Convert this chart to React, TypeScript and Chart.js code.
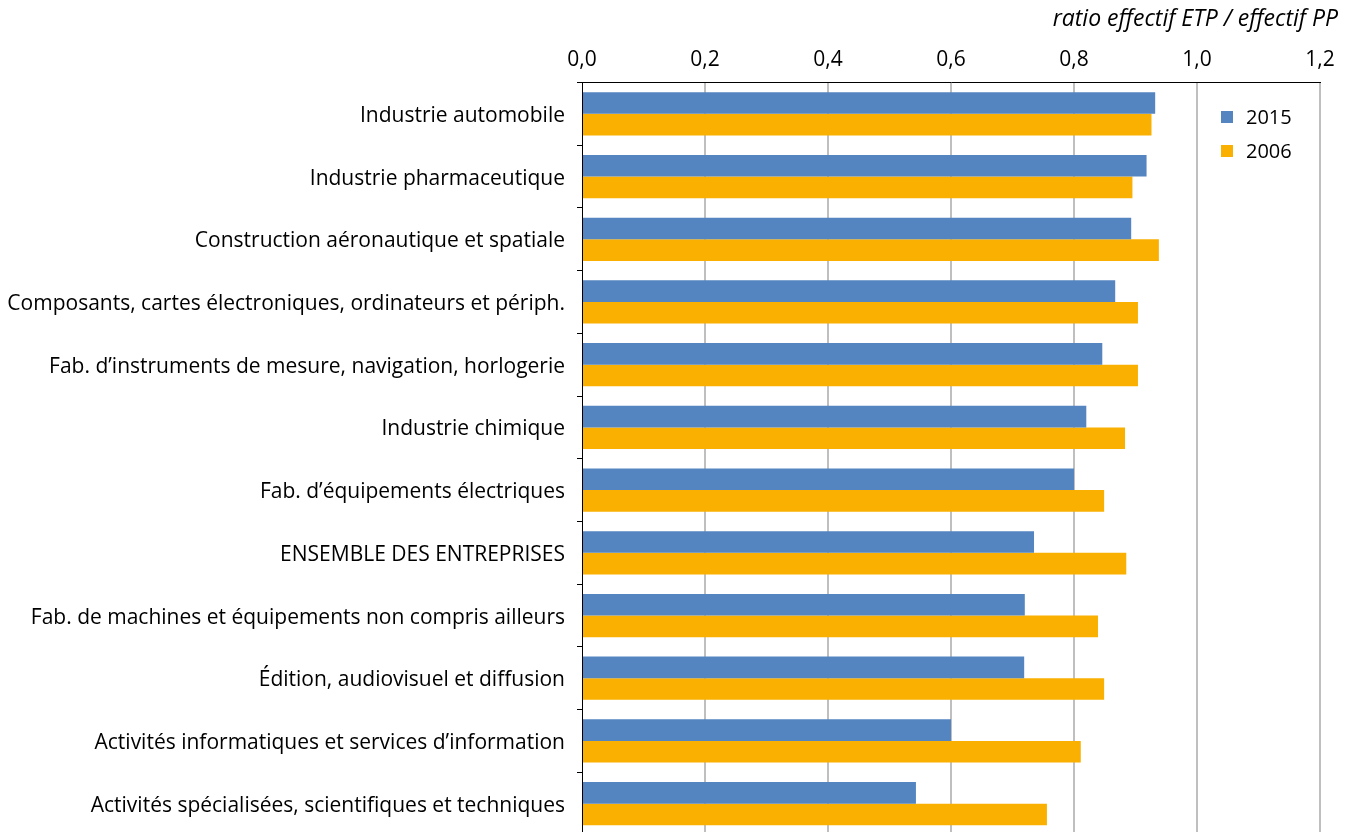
import React, { useEffect, useRef } from "react";
import { Chart, registerables } from "chart.js";

Chart.register(...registerables);

const categories = [
  "Industrie automobile",
  "Industrie pharmaceutique",
  "Construction aéronautique et spatiale",
  "Composants, cartes électroniques, ordinateurs et périph.",
  "Fab. d’instruments de mesure, navigation, horlogerie",
  "Industrie chimique",
  "Fab. d’équipements électriques",
  "ENSEMBLE DES ENTREPRISES",
  "Fab. de machines et équipements non compris ailleurs",
  "Édition, audiovisuel et diffusion",
  "Activités informatiques et services d’information",
  "Activités spécialisées, scientifiques et techniques",
];

const seriesNames = ["2015", "2006"];
const values2015 = [0.932, 0.918, 0.893, 0.867, 0.846, 0.82, 0.8, 0.735, 0.72, 0.719, 0.6, 0.543];
const values2006 = [0.926, 0.895, 0.938, 0.904, 0.904, 0.883, 0.849, 0.885, 0.839, 0.849, 0.811, 0.756];
const seriesColors = ["#5585C0", "#F9B000"];

const xMin = 0;
const xMax = 1.2;
const xStep = 0.2;
const axisTitle = "ratio effectif ETP / effectif PP";

const FONT = "'Open Sans', 'Noto Sans', sans-serif";

const decorPlugin = {
  id: "decor",
  afterDraw(chart: any) {
    const { ctx, chartArea } = chart;
    ctx.save();
    // axis title, top right
    ctx.font = `italic 23px ${FONT}`;
    ctx.fillStyle = "#000";
    ctx.textAlign = "right";
    ctx.textBaseline = "middle";
    ctx.fillText(axisTitle, chart.width - 16, 19);
    // legend
    ctx.font = `20px ${FONT}`;
    ctx.textAlign = "left";
    const lx = chartArea.right - 99;
    const ly0 = chartArea.top + 34.5;
    seriesNames.forEach((name, i) => {
      const cy = ly0 + i * 34;
      ctx.fillStyle = seriesColors[i];
      ctx.fillRect(lx, cy - 6, 12, 12);
      ctx.fillStyle = "#000";
      ctx.fillText(name, lx + 25, cy + 1);
    });
    ctx.restore();
  },
};

export default function App() {
  const ref = useRef<HTMLCanvasElement | null>(null);

  useEffect(() => {
    if (!ref.current) return;
    const chart = new Chart(ref.current, {
      type: "bar",
      data: {
        labels: categories,
        datasets: [
          {
            label: seriesNames[0],
            data: values2015,
            backgroundColor: seriesColors[0],
            categoryPercentage: 0.69,
            barPercentage: 1,
          },
          {
            label: seriesNames[1],
            data: values2006,
            backgroundColor: seriesColors[1],
            categoryPercentage: 0.69,
            barPercentage: 1,
          },
        ],
      },
      options: {
        indexAxis: "y",
        animation: false,
        responsive: false,
        maintainAspectRatio: false,
        layout: { padding: { left: 0, right: 34, top: 0, bottom: 0 } },
        plugins: {
          legend: { display: false },
          tooltip: { enabled: false },
          title: { display: false },
        },
        scales: {
          x: {
            position: "top",
            min: xMin,
            max: xMax,
            ticks: {
              stepSize: xStep,
              padding: 10,
              color: "#000",
              font: { family: FONT, size: 21 },
              callback: (v: any) => Number(v).toFixed(1).replace(".", ","),
            },
            grid: {
              color: (c: any) => (c.index === 0 ? "rgba(0,0,0,0)" : "#BFBFBF"),
              lineWidth: 2,
              drawTicks: false,
            },
            border: { display: true, color: "#000", width: 1 },
            afterFit: (scale: any) => {
              scale.height = 82.5;
            },
          },
          y: {
            position: "left",
            ticks: {
              padding: 12,
              labelOffset: 2,
              color: "#000",
              font: { family: FONT, size: 21 },
            },
            grid: {
              offset: true,
              drawOnChartArea: false,
              drawTicks: true,
              tickLength: 5,
              color: "#000",
              lineWidth: 1,
            },
            border: { display: true, color: "#000", width: 1 },
            afterFit: (scale: any) => {
              scale.width = 582;
              scale.paddingTop = 0;
              scale.paddingBottom = 0;
            },
          },
        },
      },
      plugins: [decorPlugin],
    });
    return () => chart.destroy();
  }, []);

  return (
    <div style={{ position: "fixed", left: 0, top: 0, width: 1354, height: 835 }}>
      <canvas ref={ref} width={1354} height={835} style={{ display: "block" }} />
    </div>
  );
}
